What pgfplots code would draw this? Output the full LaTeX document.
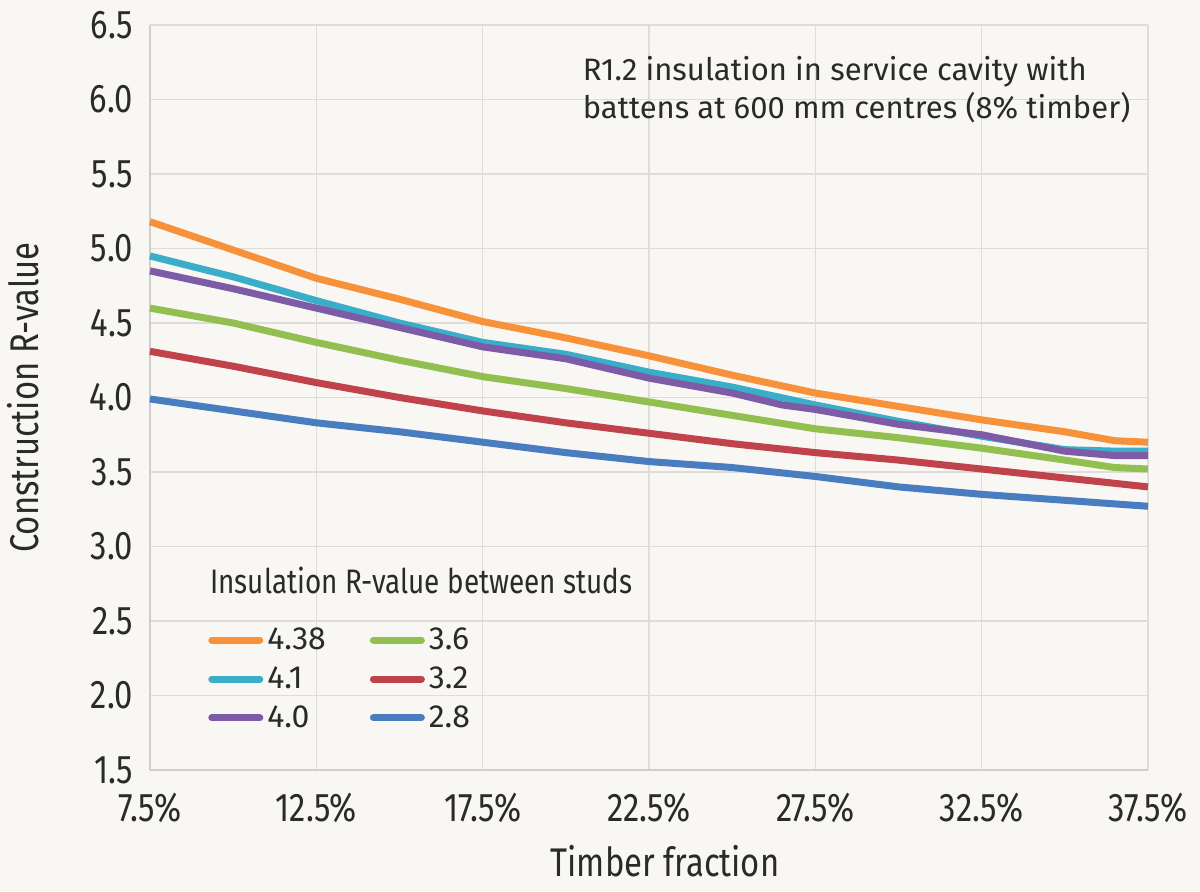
\documentclass[border=0pt]{standalone}
\usepackage{pgfplots}
\pgfplotsset{compat=1.18}
\usepackage{fontspec}
\setmainfont{Fira Sans}[FakeStretch=0.82]
\newfontfamily\widefont{Fira Sans}
\definecolor{bg}{HTML}{F8F7F3}
\definecolor{txt}{HTML}{2A2A2A}
\definecolor{gridc}{HTML}{DEDDDA}
\definecolor{axc}{HTML}{CFCECB}
\definecolor{corange}{HTML}{F7923A}
\definecolor{ccyan}{HTML}{3AADC8}
\definecolor{cpurple}{HTML}{7D5BA6}
\definecolor{cgreen}{HTML}{92C050}
\definecolor{cred}{HTML}{C0424A}
\definecolor{cblue}{HTML}{4A7DC0}
\begin{document}
\begin{tikzpicture}
\fill[bg] (-75pt,-60.5pt) rectangle (525pt,385pt);
\begin{axis}[
  at={(0,0)}, anchor=south west,
  scale only axis, width=499pt, height=372.5pt,
  xmin=7.5, xmax=37.5, ymin=1.5, ymax=6.5,
  xtick={7.5,12.5,17.5,22.5,27.5,32.5,37.5},
  xticklabels={7.5\%,12.5\%,17.5\%,22.5\%,27.5\%,32.5\%,37.5\%},
  ytick={1.5,2,...,6.5},
  yticklabel style={xshift=-5pt, /pgf/number format/.cd, fixed, fixed zerofill, precision=1},
  /pgf/number format/assume math mode=true,
  major tick length=0pt,
  grid=major,
  major grid style={draw=gridc, line width=0.8pt},
  axis line style={draw=axc, line width=1.2pt},
  axis lines*=left,
  tick label style={font=\fontsize{20}{24}\selectfont, text=txt},
  xticklabel style={yshift=-8pt},
  xlabel={Timber fraction},
  ylabel={Construction R-value},
  label style={font=\fontsize{20}{24}\selectfont, text=txt},
  xlabel style={yshift=-4.5pt, xshift=8pt},
  ylabel style={yshift=18.5pt},
  legend columns=3, transpose legend,
  legend cell align=left,
  legend style={draw=none, fill=none, at={(0.052,0.202)}, anchor=north west,
    font=\widefont\fontsize{16}{19}\selectfont, text=txt,
    /tikz/every even column/.append style={column sep=20pt},
    row sep=3pt},
  legend image code/.code={\draw[line width=3.5pt, line cap=round] (0pt,0pt) -- (24pt,0pt);},
  every axis plot/.append style={line width=3.5pt, line join=round},
  clip=false,
]
\addplot[corange] coordinates {(7.5,5.18)(10,4.99)(12.5,4.80)(15,4.66)(17.5,4.51)(20,4.40)(22.5,4.28)(25,4.15)(27.5,4.03)(30,3.94)(32.5,3.85)(35,3.77)(36.5,3.71)(37.5,3.70)};
\addplot[ccyan] coordinates {(7.5,4.95)(10,4.81)(12.5,4.65)(15,4.50)(17.5,4.37)(20,4.29)(22.5,4.17)(25,4.07)(27.5,3.95)(30,3.84)(32.5,3.74)(35,3.65)(36.5,3.64)(37.5,3.64)};
\addplot[cpurple] coordinates {(7.5,4.85)(10,4.73)(12.5,4.60)(15,4.47)(17.5,4.34)(20,4.26)(22.5,4.13)(25,4.03)(26.5,3.95)(27.5,3.92)(30,3.82)(32.5,3.75)(35,3.64)(36.5,3.61)(37.5,3.61)};
\addplot[cgreen] coordinates {(7.5,4.60)(10,4.50)(12.5,4.37)(15,4.25)(17.5,4.14)(20,4.06)(22.5,3.97)(25,3.88)(27.5,3.79)(30,3.73)(32.5,3.66)(35,3.58)(36.5,3.53)(37.5,3.52)};
\addplot[cred] coordinates {(7.5,4.31)(10,4.21)(12.5,4.10)(15,4.00)(17.5,3.91)(20,3.83)(22.5,3.76)(25,3.69)(27.5,3.63)(30,3.58)(32.5,3.52)(35,3.46)(37.5,3.40)};
\addplot[cblue] coordinates {(7.5,3.99)(10,3.91)(12.5,3.83)(15,3.77)(17.5,3.70)(20,3.63)(22.5,3.57)(25,3.53)(27.5,3.47)(30,3.40)(32.5,3.35)(35,3.31)(37.5,3.27)};
\legend{4.38,4.1,4.0,3.6,3.2,2.8}
\node[anchor=west, text=txt, font=\fontsize{17}{20}\selectfont, inner sep=0pt] at (axis cs:9.3,2.77) {Insulation R-value between studs};
\node[anchor=north west, text=txt, align=left, font=\widefont\fontsize{15.5}{19}\selectfont, inner sep=0pt] at (axis cs:20.5,6.29) {R1.2 insulation in service cavity with\\battens at 600 mm centres (8\% timber)};
\end{axis}
\pgfresetboundingbox
\path (-75pt,-60.5pt) rectangle (525pt,385pt);
\end{tikzpicture}
\end{document}
